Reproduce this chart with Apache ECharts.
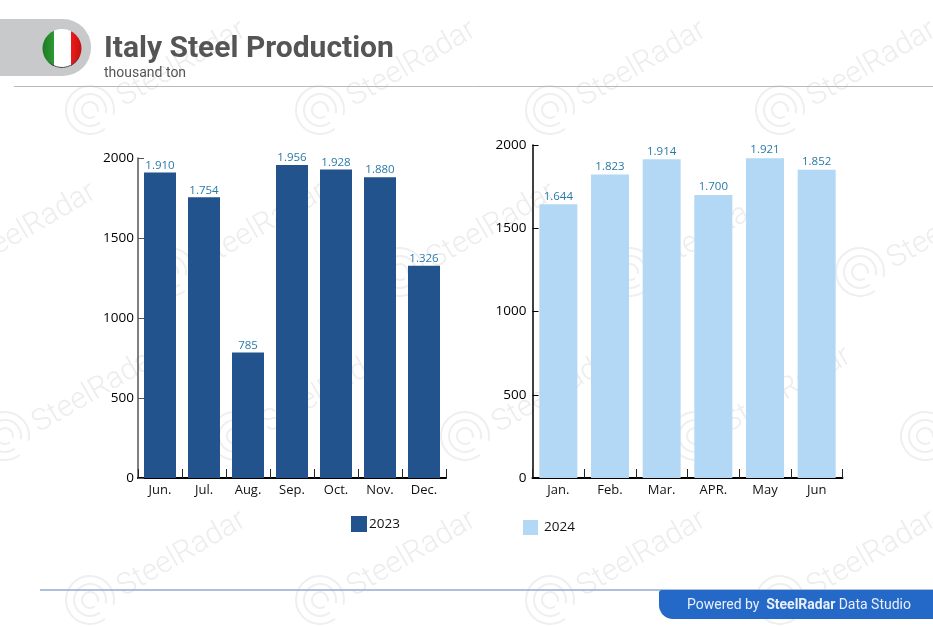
<!DOCTYPE html>
<html>
<head>
   <meta charset="utf-8">
   <title>Italy Steel Production</title>
   <style>
      html, body {margin: 0; padding: 0; background: #fff;}
      #chart {width: 933px; height: 627px;}
   </style>
   <script src="https://cdn.jsdelivr.net/npm/echarts@6/dist/echarts.min.js"></script>
</head>
<body>
<div id="chart"></div>
<script>
	var months2023 = ['Jun.', 'Jul.', 'Aug.', 'Sep.', 'Oct.', 'Nov.', 'Dec.'];
	var values2023 = [1910, 1754, 785, 1956, 1928, 1880, 1326];
	var months2024 = ['Jan.', 'Feb.', 'Mar.', 'APR.', 'May', 'Jun'];
	var values2024 = [1644, 1823, 1914, 1700, 1921, 1852];
	var titleText = 'Italy Steel Production';
	var unitText = 'thousand ton';

	// logo centres of the background watermark
	var stamps = [
		[90, 110], [320, 110], [550, 110], [780, 110],
		[-60, 272], [170, 272], [400, 272], [630, 272], [860, 272],
		[5, 436], [235, 436], [465, 436], [695, 436], [925, 436],
		[90, 600], [320, 600], [550, 600], [780, 600]
	];

	function dotted(v) {
		return v >= 1000 ? String(v).replace(/(\d)(\d{3})$/, '$1.$2') : String(v);
	}

	function watermark() {
		var out = [];
		stamps.forEach(function (p) {
			[24, 16, 8].forEach(function (r) {
				out.push({
					type: 'arc', z: -1, silent: true,
					shape: {cx: p[0], cy: p[1], r: r, startAngle: 0.9, endAngle: 0.2, clockwise: true},
					style: {fill: 'none', stroke: '#efefef', lineWidth: 2}
				});
			});
			out.push({
				type: 'text', z: -1, silent: true,
				x: p[0] + 30, y: p[1] - 10, rotation: Math.PI / 6,
				style: {text: 'SteelRadar', font: '300 30px Roboto', fill: '#ededed', verticalAlign: 'middle'}
			});
		});
		return out;
	}

	var header = [
		{type: 'rect', shape: {x: 0, y: 19, width: 91, height: 57, r: [0, 28, 28, 0]}, style: {fill: '#c8c9cb'}},
		{type: 'circle', shape: {cx: 62, cy: 48.5, r: 19.5}, style: {
			fill: {type: 'linear', x: 0, y: 0, x2: 1, y2: 0, colorStops: [
				{offset: 0, color: '#1c7a22'}, {offset: 0.3, color: '#2f9a35'},
				{offset: 0.3, color: '#ffffff'}, {offset: 0.72, color: '#ffffff'},
				{offset: 0.72, color: '#ee1c1c'}, {offset: 1, color: '#c40f0f'}
			]}
		}},
		{type: 'arc', shape: {cx: 62, cy: 48.5, r: 19, startAngle: 0.5, endAngle: 2.3, clockwise: true},
			style: {fill: 'none', stroke: '#444', lineWidth: 1}},
		{type: 'text', x: 104, y: 49, style: {text: titleText, font: 'bold 30px Roboto', fill: '#555', verticalAlign: 'middle'}},
		{type: 'text', x: 104, y: 73.5, style: {text: unitText, font: '14px Roboto', fill: '#555', verticalAlign: 'middle'}},
		{type: 'line', shape: {x1: 14, y1: 86.5, x2: 933, y2: 86.5}, style: {stroke: '#b8b8b8', lineWidth: 1}}
	];

	var footer = [
		{type: 'line', shape: {x1: 40, y1: 590, x2: 933, y2: 590}, style: {stroke: '#8fadd0', lineWidth: 1.5}},
		{type: 'rect', shape: {x: 659, y: 590, width: 274, height: 29, r: [3, 0, 0, 14]}, style: {fill: '#2468c8'}},
		{type: 'text', x: 687, y: 605, style: {
			text: '{a|Powered by}  {b|SteelRadar} {a|Data Studio}',
			verticalAlign: 'middle',
			rich: {
				a: {font: '14px Roboto', fill: '#e8effa'},
				b: {font: 'bold 14px Roboto', fill: '#e8effa'}
			}
		}}
	];

	function xAxis(idx, names) {
		return {
			type: 'category', gridIndex: idx, data: names,
			axisLine: {lineStyle: {color: '#000', width: 2}},
			axisTick: {show: true, inside: true, length: 9, alignWithLabel: false, lineStyle: {color: '#222', width: 1}},
			axisLabel: {color: '#111', fontFamily: 'Open Sans', fontSize: 13, margin: 6, interval: 0}
		};
	}

	function yAxis(idx, color, gap) {
		return {
			type: 'value', gridIndex: idx, min: 0, max: 2000, interval: 500,
			splitLine: {show: false},
			axisLine: {show: true, lineStyle: {color: color, width: 1.5}},
			axisTick: {show: true, inside: true, length: 6, lineStyle: {color: color, width: 1}},
			axisLabel: {
				color: '#000', fontFamily: 'Open Sans', fontSize: 13.5, margin: gap,
				formatter: function (v) { return String(v); }
			}
		};
	}

	function barSeries(name, idx, values, color, width, gap) {
		return {
			name: name, type: 'bar', xAxisIndex: idx, yAxisIndex: idx, data: values,
			barWidth: width, itemStyle: {color: color},
			label: {
				show: true, position: 'top', distance: gap, color: '#2a7aa6',
				fontFamily: 'Open Sans', fontSize: 11.5,
				formatter: function (p) { return dotted(p.value); }
			}
		};
	}

	var chart = echarts.init(document.getElementById('chart'), null, {renderer: 'canvas'});
	chart.setOption({
		animation: false,
		backgroundColor: '#fff',
		graphic: {elements: watermark().concat(header, footer)},
		legend: [
			{data: ['2023'], left: 351, top: 516, itemWidth: 16, itemHeight: 16, itemGap: 0, padding: 0,
				icon: 'rect', textStyle: {color: '#111', fontFamily: 'Open Sans', fontSize: 13.5, padding: [0, 0, 0, -3]}},
			{data: ['2024'], left: 523, top: 520, itemWidth: 15, itemHeight: 15, itemGap: 0, padding: 0,
				icon: 'rect', textStyle: {color: '#111', fontFamily: 'Open Sans', fontSize: 13.5, padding: [0, 0, 0, 1]}}
		],
		grid: [
			{left: 138, right: 487, top: 158, bottom: 149},
			{left: 532.5, right: 90.5, top: 145, bottom: 149}
		],
		xAxis: [xAxis(0, months2023), xAxis(1, months2024)],
		yAxis: [yAxis(0, '#555', 4), yAxis(1, '#000', 6)],
		series: [
			barSeries('2023', 0, values2023, '#23538c', 32, 1),
			barSeries('2024', 1, values2024, '#b2d8f5', 38, 2)
		]
	});
</script>
</body>
</html>
